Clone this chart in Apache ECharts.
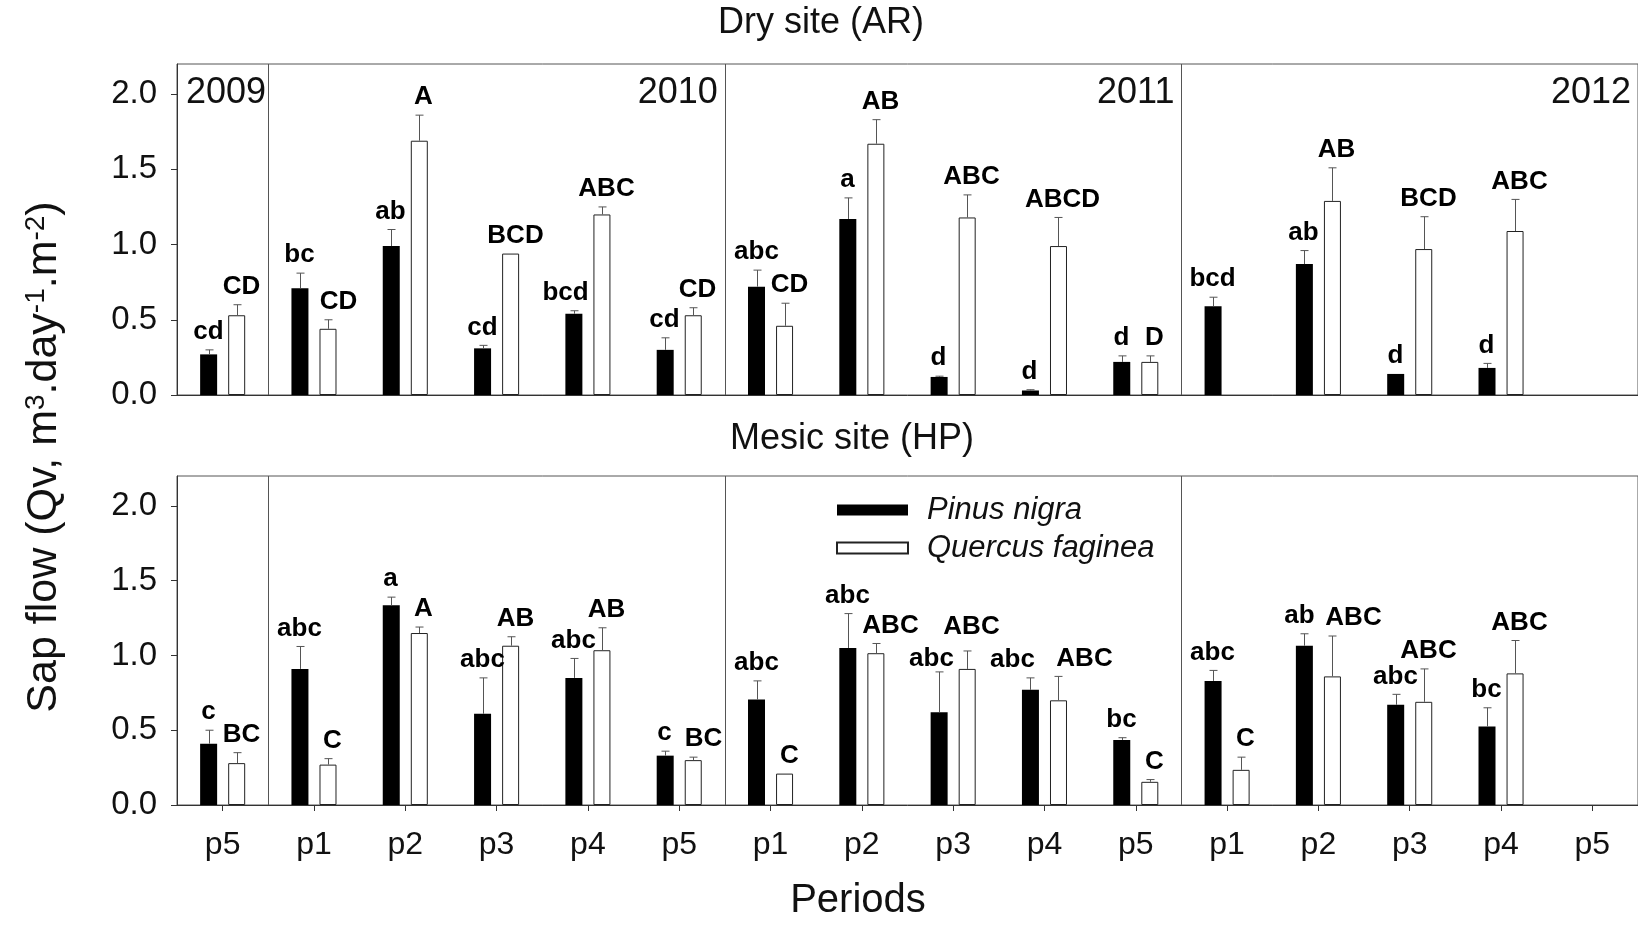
<!DOCTYPE html>
<html>
<head>
<meta charset="utf-8">
<title>Sap flow</title>
<script src="https://cdn.jsdelivr.net/npm/echarts@6/dist/echarts.min.js"></script>
<style>
  html, body { margin: 0; padding: 0; background: #fff; }
  #chart { width: 1638px; height: 925px; }
</style>
</head>
<body>
<div id="chart"></div>
<script>
// periods along the x axis (4 years: 2009 has only p5)
const periods = ["p5", "p1", "p2", "p3", "p4", "p5", "p1", "p2", "p3", "p4", "p5", "p1", "p2", "p3", "p4", "p5"];
const years = ["2009", "2010", "2011", "2012"];
const yearLastPeriod = [0, 5, 10, 15];
const yearBreaks = [1, 6, 11];
const yTicks = [0, 0.5, 1.0, 1.5, 2.0];

// Dry site (AR)
const pinusDry = [0.27, 0.71, 0.99, 0.31, 0.54, 0.30, 0.72, 1.17, 0.12, 0.03, 0.22, 0.59, 0.87, 0.14, 0.18, null];
const pinusDrySE = [0.03, 0.10, 0.11, 0.02, 0.02, 0.08, 0.11, 0.14, 0.005, 0.005, 0.04, 0.06, 0.09, 0, 0.03, null];
const pinusDryLetters = ["cd", "bc", "ab", "cd", "bcd", "cd", "abc", "a", "d", "d", "d", "bcd", "ab", "d", "d", ""];
const quercusDry = [0.53, 0.44, 1.69, 0.94, 1.20, 0.53, 0.46, 1.67, 1.18, 0.99, 0.22, null, 1.29, 0.97, 1.09, null];
const quercusDrySE = [0.07, 0.06, 0.17, 0, 0.05, 0.05, 0.15, 0.16, 0.15, 0.19, 0.04, null, 0.22, 0.215, 0.21, null];
const quercusDryLetters = ["CD", "CD", "A", "BCD", "ABC", "CD", "CD", "AB", "ABC", "ABCD", "D", "", "AB", "BCD", "ABC", ""];

// Mesic site (HP)
const pinusMesic = [0.41, 0.91, 1.335, 0.61, 0.85, 0.33, 0.705, 1.05, 0.62, 0.77, 0.435, 0.83, 1.065, 0.67, 0.525, null];
const pinusMesicSE = [0.09, 0.15, 0.055, 0.24, 0.13, 0.03, 0.125, 0.23, 0.27, 0.08, 0.015, 0.07, 0.08, 0.07, 0.125, null];
const pinusMesicLetters = ["c", "abc", "a", "abc", "abc", "c", "abc", "abc", "abc", "abc", "bc", "abc", "ab", "abc", "bc", ""];
const quercusMesic = [0.28, 0.27, 1.15, 1.065, 1.035, 0.30, 0.21, 1.015, 0.91, 0.70, 0.155, 0.235, 0.86, 0.69, 0.88, null];
const quercusMesicSE = [0.07, 0.04, 0.04, 0.06, 0.15, 0.02, 0, 0.065, 0.12, 0.16, 0.015, 0.085, 0.27, 0.22, 0.22, null];
const quercusMesicLetters = ["BC", "C", "A", "AB", "AB", "BC", "C", "ABC", "ABC", "ABC", "C", "C", "ABC", "ABC", "ABC", ""];

const FONT = "'Liberation Sans', Arial, Helvetica, sans-serif";
const INK = "#111";

// hand placement of a few letters, as in the original figure (px: [dx, dy])
const letterNudge = {
  pinusDry: { 4: [-8, 0] },
  quercusDry: { 1: [6, 0] },
  pinusMesic: { 8: [-7, 5], 9: [-17, 0], 12: [-4, 0] },
  quercusMesic: { 5: [6, 0], 7: [10, 0], 8: [0, -6], 9: [22, 0], 12: [17, 0] },
};

// error bar + significance letter above each bar
function errRender(letters, shift, textShift, nudge) {
  return function (params, api) {
    const i = api.value(0);
    const v = api.value(1);
    const e = api.value(2);
    const p0 = api.coord([i, v]);
    const p1 = api.coord([i, v + e]);
    const x = Math.round(p0[0] + shift) + 0.5;
    const n = nudge[i] || [0, 0];
    const children = [];
    if (e > 0) {
      children.push({ type: "line", shape: { x1: x, y1: p0[1], x2: x, y2: p1[1] }, style: { stroke: "#555", lineWidth: 1 } });
      children.push({ type: "line", shape: { x1: x - 4, y1: p1[1], x2: x + 4, y2: p1[1] }, style: { stroke: "#555", lineWidth: 1 } });
    }
    children.push({
      type: "text",
      x: x + textShift + n[0],
      y: p1[1] - 5 + n[1],
      style: {
        text: letters[i], fontSize: 26, fontWeight: "bold", fontFamily: FONT, fill: "#000",
        align: "center", verticalAlign: "bottom",
      },
    });
    return { type: "group", children: children };
  };
}

function toData(values, se) {
  return values.map((v, i) => [i, v, se[i]]).filter((d) => d[1] != null);
}

function barSeries(name, idx, values, dark) {
  return {
    name: name,
    type: "bar",
    xAxisIndex: idx,
    yAxisIndex: idx,
    barWidth: 17,
    barGap: "65%",
    data: values,
    itemStyle: dark
      ? { color: "#000" }
      : { color: "#fff", borderColor: "#222", borderWidth: 1 },
  };
}

function errSeries(name, idx, values, se, letters, shift, textShift) {
  return {
    name: name,
    type: "custom",
    xAxisIndex: idx,
    yAxisIndex: idx,
    silent: true,
    clip: false,
    z: 5,
    renderItem: errRender(letters, shift, textShift, letterNudge[name] || {}),
    data: toData(values, se),
  };
}

function xAxis(idx, showLabels) {
  return {
    gridIndex: idx,
    type: "category",
    data: periods,
    axisLine: { show: true, lineStyle: { color: "#333", width: 1 } },
    axisTick: { show: showLabels, alignWithLabel: true, length: 6, lineStyle: { color: "#333" } },
    axisLabel: { show: showLabels, fontSize: 32, color: INK, margin: 24 },
    splitLine: {
      show: true,
      interval: (i) => yearBreaks.includes(i),
      lineStyle: { color: "#555", width: 1 },
    },
  };
}

function yAxis(idx) {
  return {
    gridIndex: idx,
    type: "value",
    min: 0,
    max: 2.2,
    interval: 0.5,
    axisLine: { show: true, lineStyle: { color: "#333" } },
    axisTick: { show: true, length: 6, customValues: yTicks, lineStyle: { color: "#333" } },
    axisLabel: {
      customValues: yTicks,
      formatter: (v) => v.toFixed(1),
      fontSize: 33,
      color: INK,
      margin: 20,
    },
    splitLine: { show: false },
  };
}

const chart = echarts.init(document.getElementById("chart"));

const options = {
  animation: false,
  backgroundColor: "#fff",
  textStyle: { fontFamily: FONT },
  graphic: [
    {
      type: "text", x: 821, y: 23,
      style: { text: "Dry site (AR)", fontSize: 36, fontFamily: FONT, fill: INK, align: "center", verticalAlign: "middle" },
    },
    {
      type: "text", x: 852, y: 439,
      style: { text: "Mesic site (HP)", fontSize: 36, fontFamily: FONT, fill: INK, align: "center", verticalAlign: "middle" },
    },
    {
      type: "text", x: 858, y: 901,
      style: { text: "Periods", fontSize: 40, fontFamily: FONT, fill: INK, align: "center", verticalAlign: "middle" },
    },
    {
      type: "text", x: 44, y: 457, rotation: Math.PI / 2,
      style: {
        text: "{a|Sap flow (Qv, m}{s|3}{a|.day}{s|-1}{a|.m}{s|-2}{a|)}",
        rich: {
          a: { fontSize: 43, fontFamily: FONT, fill: INK, color: INK },
          s: { fontSize: 28, fontFamily: FONT, fill: INK, color: INK, verticalAlign: "top" },
        },
        align: "center",
        verticalAlign: "middle",
      },
    },
  ],
  legend: {
    orient: "vertical",
    left: 836,
    top: 491,
    padding: 0,
    itemWidth: 71,
    itemHeight: 11,
    itemGap: 0,
    icon: "rect",
    data: ["Pinus nigra", "Quercus faginea"],
    textStyle: { fontSize: 31, fontStyle: "italic", color: INK, lineHeight: 38, padding: [0, 0, 0, 14] },
    selectedMode: false,
  },
  grid: [
    { left: 177, top: 64, width: 1462, height: 331, show: true, borderColor: "#555", borderWidth: 1 },
    { left: 177, top: 476, width: 1462, height: 329, show: true, borderColor: "#555", borderWidth: 1 },
  ],
  xAxis: [xAxis(0, false), xAxis(1, true)],
  yAxis: [yAxis(0), yAxis(1)],
  series: [
    barSeries("Pinus nigra", 0, pinusDry, true),
    barSeries("Quercus faginea", 0, quercusDry, false),
    barSeries("Pinus nigra", 1, pinusMesic, true),
    barSeries("Quercus faginea", 1, quercusMesic, false),
    errSeries("pinusDry", 0, pinusDry, pinusDrySE, pinusDryLetters, -14, -1),
    errSeries("quercusDry", 0, quercusDry, quercusDrySE, quercusDryLetters, 14, 4),
    errSeries("pinusMesic", 1, pinusMesic, pinusMesicSE, pinusMesicLetters, -14, -1),
    errSeries("quercusMesic", 1, quercusMesic, quercusMesicSE, quercusMesicLetters, 14, 4),
    {
      name: "years",
      type: "custom",
      xAxisIndex: 0,
      yAxisIndex: 0,
      silent: true,
      clip: false,
      data: yearLastPeriod.map((p) => [p, 2.0]),
      renderItem: function (params, api) {
        const k = params.dataIndex;
        const c = api.coord([api.value(0), api.value(1)]);
        const bw = api.size([1, 0])[0];
        const first = k === 0;
        return {
          type: "text",
          x: first ? c[0] - bw / 2 + 9 : c[0] + bw / 2 - 7,
          y: c[1] - 1,
          style: {
            text: years[k], fontSize: 36, fontFamily: FONT, fill: INK,
            align: first ? "left" : "right", verticalAlign: "middle",
          },
        };
      },
    },
  ],
};

chart.setOption(options);

window.addEventListener("resize", () => {
  chart.resize();
});
</script>
</body>
</html>
